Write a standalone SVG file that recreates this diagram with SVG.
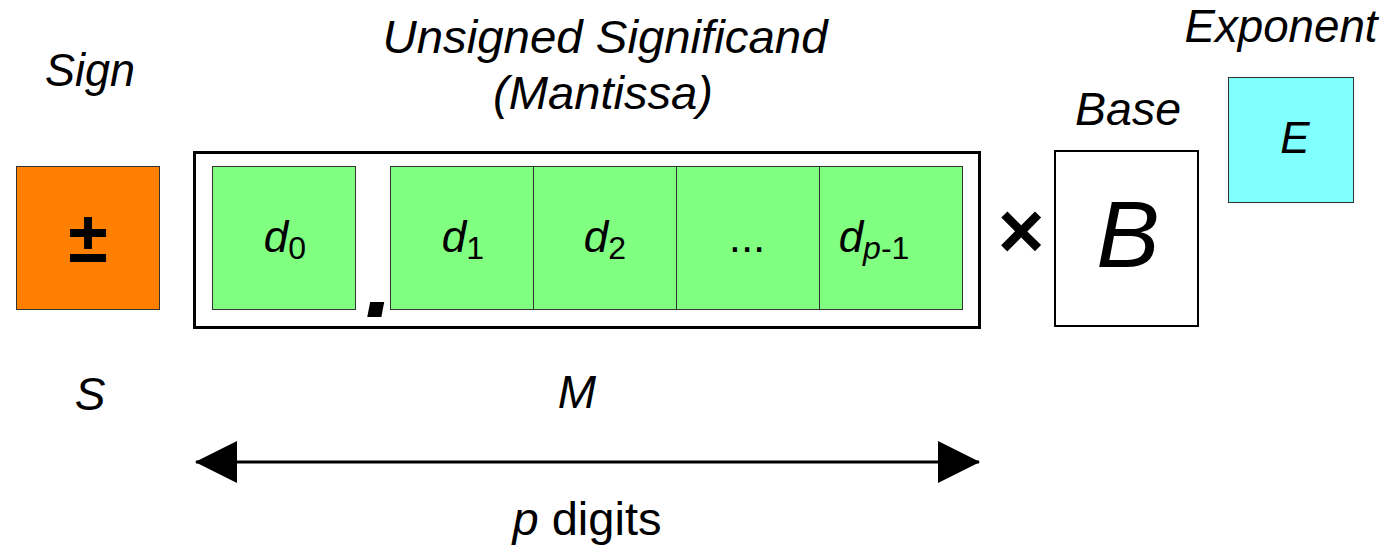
<svg xmlns="http://www.w3.org/2000/svg" width="1395" height="546" viewBox="0 0 1395 546">
  <defs>
    <style>
      text { font-family: "Liberation Sans", Arial, sans-serif; fill: #000; }
      .lbl { font-size: 46px; font-style: italic; text-anchor: middle; }
      .dig { font-size: 44px; font-style: italic; text-anchor: middle; }
      .sub { font-size: 32px; font-style: normal; }
      .subi { font-size: 32px; font-style: italic; }
      .cell { fill: #80FF80; stroke: #333; stroke-width: 1; }
    </style>
    <marker id="head" viewBox="0 0 42 42" refX="41" refY="21" markerWidth="42" markerHeight="42" markerUnits="userSpaceOnUse" orient="auto-start-reverse">
      <path d="M0,0 L42,21 L0,42 Z" fill="#000"/>
    </marker>
  </defs>
  <rect width="1395" height="546" fill="#fff"/>

  <!-- headings -->
  <text class="lbl" x="90" y="86" textLength="90" lengthAdjust="spacingAndGlyphs">Sign</text>
  <text class="lbl" x="605" y="53" textLength="445" lengthAdjust="spacingAndGlyphs">Unsigned Significand</text>
  <text class="lbl" x="603" y="109" textLength="220" lengthAdjust="spacingAndGlyphs">(Mantissa)</text>
  <text class="lbl" x="1128" y="125" textLength="106" lengthAdjust="spacingAndGlyphs">Base</text>
  <text class="lbl" x="1281" y="42" textLength="193" lengthAdjust="spacingAndGlyphs">Exponent</text>

  <!-- sign -->
  <g id="sign">
    <rect x="16.5" y="166.5" width="143" height="143" fill="#FF8000" stroke="#333" stroke-width="1"/>
    <text x="88" y="262" font-size="72" font-weight="bold" text-anchor="middle">±</text>
  </g>

  <!-- significand -->
  <g id="significand">
    <rect x="194.5" y="152.5" width="785" height="175" fill="#fff" stroke="#000" stroke-width="3"/>
    <rect class="cell" x="212.5" y="166.5" width="143" height="143"/>
    <rect class="cell" x="390.5" y="166.5" width="143" height="143"/>
    <rect class="cell" x="533.5" y="166.5" width="143" height="143"/>
    <rect class="cell" x="676.5" y="166.5" width="143" height="143"/>
    <rect class="cell" x="819.5" y="166.5" width="143" height="143"/>
    <text class="dig" x="285" y="252">d<tspan class="sub" dy="7">0</tspan></text>
    <text class="dig" x="463" y="252">d<tspan class="sub" dy="7">1</tspan></text>
    <text class="dig" x="605" y="252">d<tspan class="sub" dy="7">2</tspan></text>
    <text x="747" y="252" font-size="44" text-anchor="middle">...</text>
    <text class="dig" x="874" y="252">d<tspan class="subi" dy="7">p</tspan><tspan class="sub">-1</tspan></text>
    <text x="379" y="317" font-size="100" font-weight="bold" font-style="italic" text-anchor="middle">.</text>
  </g>

  <!-- multiply sign -->
  <g id="times">
    <text x="1021" y="258" font-size="80" font-weight="bold" text-anchor="middle">×</text>
  </g>

  <!-- base -->
  <g id="base">
    <rect x="1055" y="151" width="143" height="175" fill="#fff" stroke="#000" stroke-width="2"/>
    <text x="1128" y="267" font-size="95" font-style="italic" text-anchor="middle">B</text>
  </g>

  <!-- exponent -->
  <g id="exponent">
    <rect x="1228.5" y="77.5" width="125" height="125" fill="#80FFFF" stroke="#333" stroke-width="1"/>
    <text x="1295" y="153" font-size="44" font-style="italic" text-anchor="middle">E</text>
  </g>

  <!-- field symbols -->
  <text class="lbl" x="90" y="410">S</text>
  <text class="lbl" x="577" y="408">M</text>

  <!-- digit count span -->
  <g id="connectors">
    <line x1="196" y1="462" x2="979" y2="462" stroke="#000" stroke-width="3" marker-start="url(#head)" marker-end="url(#head)"/>
  </g>
  <text x="587" y="535" font-size="46" text-anchor="middle" textLength="149" lengthAdjust="spacingAndGlyphs"><tspan font-style="italic">p</tspan> digits</text>
</svg>
